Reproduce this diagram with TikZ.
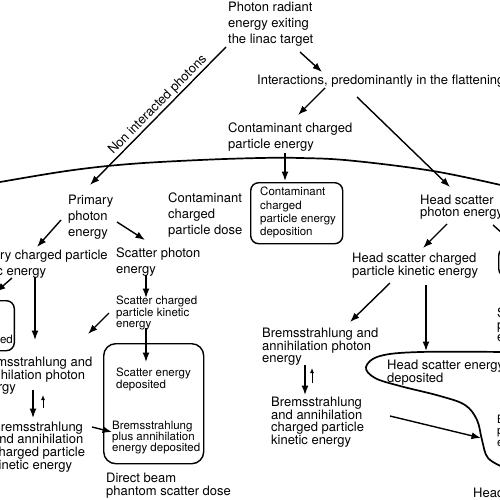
\documentclass[tikz,border=0pt]{standalone}
\usepackage{fontspec}
\setmainfont{TeX Gyre Heros}
\usetikzlibrary{arrows.meta,calc}
\begin{document}
\begin{tikzpicture}[x=1pt,y=-1pt,
  arr/.style={-{Latex[length=9.5pt,width=7pt]}, line width=1.4pt},
  sarr/.style={-{Latex[length=5pt,width=4pt]}, line width=0.9pt},
  txt/.style={anchor=north west, inner sep=0pt, align=left, font=\fontsize{13}{#1}\selectfont, execute at begin node={\rule{0pt}{9.5pt}}},
  txt/.default=16,
  stxt/.style={anchor=north west, inner sep=0pt, align=left, font=\fontsize{11.5}{#1}\selectfont, execute at begin node={\rule{0pt}{8.5pt}}},
  stxt/.default=12,
  box/.style={draw, line width=1.4pt, rounded corners=8pt, inner sep=0pt},
  surf/.style={line width=1.7pt}]
\useasboundingbox (0,0) rectangle (500,500);
\clip (0,0) rectangle (500,500);

% text nodes
\node[txt] (photon) at (228,1.5) {Photon radiant\\energy exiting\\the linac target};
\node[txt] (inter) at (257,74.5) {Interactions, predominantly in the flattening filter};
\node[txt] (ccpe) at (228,122.5) {Contaminant charged\\particle energy};
\node[txt] (ppe) at (68,194.5) {Primary\\photon\\energy};
\node[txt] (ccpd) at (168,192.5) {Contaminant\\charged\\particle dose};
\node[box, minimum width=92pt, minimum height=61pt, anchor=north west] (cbox) at (250,182) {};
\node[stxt=13.3] (cboxt) at (260,187) {Contaminant\\charged\\particle energy\\deposition};
\node[txt=12] (hspe) at (420,194.5) {Head scatter\\photon energy};
\node[box, minimum width=40pt, minimum height=29pt, anchor=north west] (rbox) at (498,247) {};
\node[txt] (pcpke) at (-34,249.5) {Primary charged particle\\kinetic energy};
\node[txt] (spe) at (116,247.5) {Scatter photon\\energy};
\node[stxt=11.5] (scpke) at (116,296) {Scatter charged\\particle kinetic\\energy};
\node[txt=12] (hscpke) at (352,252.5) {Head scatter charged\\particle kinetic energy};
\node[box, minimum width=45pt, minimum height=50pt, anchor=north east] (pbox) at (15,300) {};
\node[stxt, anchor=north east] (pdep) at (13,335) {deposited};
\node[txt=12] (bapel) at (-24,356.5) {Bremsstrahlung and\\annihilation photon\\energy};
\node[txt=12] (bapelr) at (262,327.5) {Bremsstrahlung and\\annihilation photon\\energy};
\node[txt=12.7] (bacpkel) at (-8,421.5) {Bremsstrahlung\\and annihilation\\charged particle\\kinetic energy};
\node[txt=12] (bacpker) at (271,396.5) {Bremsstrahlung\\and annihilation\\charged particle\\kinetic energy};
\node[box, rounded corners=12pt, minimum width=100pt, minimum height=120pt, anchor=north west] (sbox) at (103,343) {};
\node[stxt=12] (sdep) at (116,368) {Scatter energy\\deposited};
\node[stxt=11] (sbrem) at (112,421) {Bremsstrahlung\\plus annihilation\\energy deposited};
\node[txt=13] (dbpsd) at (106,472.5) {Direct beam\\phantom scatter dose};
\node[txt=12] (hsed) at (387,359.5) {Head scatter energy\\deposited};
\node[txt=12] (rspe) at (497,307.5) {Scatter\\photon\\energy};
\node[stxt=11.5] (rbrem) at (497,414.5) {Bremsstrahlung\\plus annihilation\\energy deposited};
\node[txt] (hsd) at (473,487.5) {Head scatter dose};

% phantom surface
\draw[surf] plot[smooth, tension=0.6] coordinates {(-5,183) (0,182) (70,170.5) (130,164) (200,160) (260,158) (300,158) (350,160.5) (433,171) (505,186)};
% head scatter deposition region
\draw[surf] plot[smooth, tension=0.6] coordinates {(505,352) (420,352) (380,356) (366,367) (375,378) (400,386) (440,396) (465,405) (477,420) (482,440) (488,458) (505,468)};

% connectors
\draw[arr] ([shift={(72,50.5)}]photon.north west) -- ([shift={(65,-2.5)}]inter.north west);
\draw[arr] ([shift={(68,13.5)}]inter.north west) -- ([shift={(70,-7.5)}]ccpe.north west);
\draw[arr] ([shift={(100,22.5)}]inter.north west) -- ([shift={(30,-7.5)}]hspe.north west);
\draw[arr] ([shift={(-2,45.5)}]photon.north west) -- node[pos=0.46, sloped, above, inner sep=1pt, font=\fontsize{13}{16}\selectfont] (nilab) {Non interacted photons} ([shift={(22,-9.5)}]ppe.north west);
\draw[arr] ([shift={(57,30.5)}]ccpe.north west) -- ([shift={(35,-1)}]cbox.north west);
\draw[arr] ([shift={(-7,25.5)}]ppe.north west) -- ([shift={(71,-2.5)}]pcpke.north west);
\draw[arr] ([shift={(49,27.5)}]ppe.north west) -- ([shift={(29,-7.5)}]spe.north west);
\coordinate (offl) at (-4,292);
\draw[arr] ([shift={(46,28.5)}]pcpke.north west) -- (offl);
\draw[arr] ([shift={(69,27.5)}]pcpke.north west) -- ([shift={(59,-16.5)}]bapel.north west);
\draw[arr] ([shift={(30,27.5)}]spe.north west) -- ([shift={(30,2)}]scpke.north west);
\draw[arr] ([shift={(-7,17)}]scpke.north west) -- ([shift={(112,-22.5)}]bapel.north west);
\draw[arr] ([shift={(30,32)}]scpke.north west) -- ([shift={(30,-6)}]sdep.north west);
\draw[arr] ([shift={(57,33.5)}]bapel.north west) -- ([shift={(41,-3.5)}]bacpkel.north west);
\draw[sarr] ([shift={(51,-13.5)}]bacpkel.north west) -- ([shift={(67,38.5)}]bapel.north west);
\draw[arr] ([shift={(100,5.5)}]bacpkel.north west) -- ([shift={(0,11)}]sbrem.north west);
\draw[arr] ([shift={(27,29.5)}]hspe.north west) -- ([shift={(71,-4.5)}]hscpke.north west);
\coordinate (offr) at (512,242);
\draw[arr] ([shift={(73,30.5)}]hspe.north west) -- (offr);
\coordinate (blobtop) at (426,351);
\draw[arr] ([shift={(74,32.5)}]hscpke.north west) -- (blobtop);
\draw[arr] ([shift={(38,30.5)}]hscpke.north west) -- ([shift={(88,-5.5)}]bapelr.north west);
\draw[arr] ([shift={(43,37.5)}]bapelr.north west) -- ([shift={(34,-1.5)}]bacpker.north west);
\draw[sarr] ([shift={(41,-13.5)}]bacpker.north west) -- ([shift={(50,40.5)}]bapelr.north west);
\coordinate (blobin) at (481,438);
\draw[arr] ([shift={(119,19.5)}]bacpker.north west) -- (blobin);
\end{tikzpicture}
\end{document}
